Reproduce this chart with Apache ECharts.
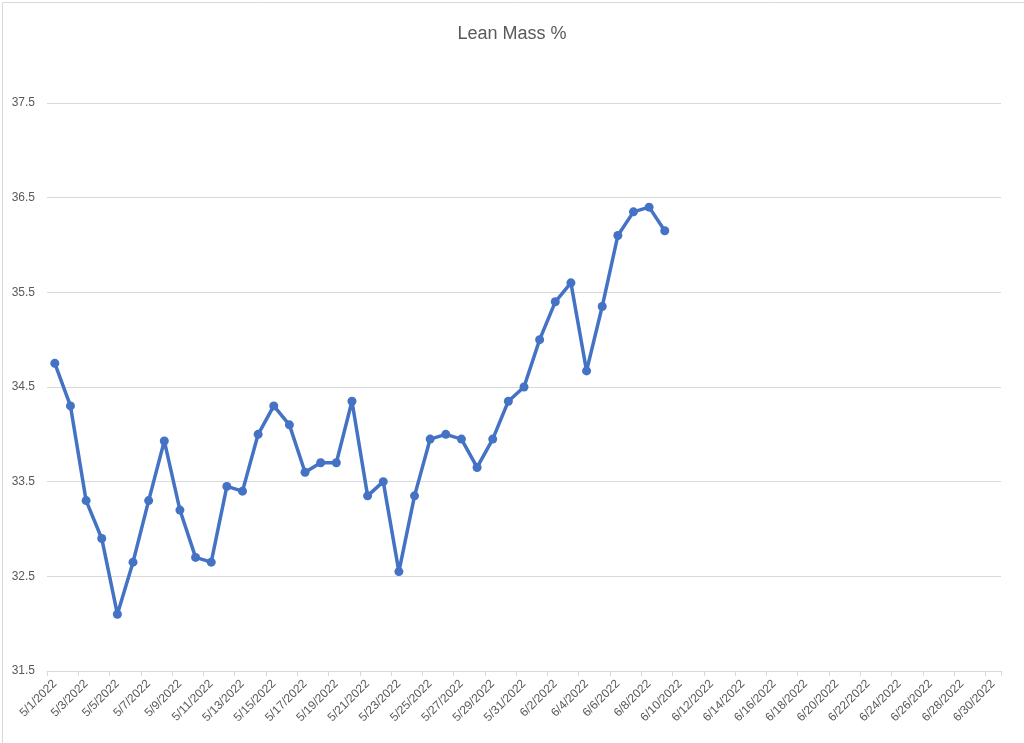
<!DOCTYPE html>
<html>
<head>
<meta charset="utf-8">
<script src="https://cdn.jsdelivr.net/npm/echarts@6/dist/echarts.min.js"></script>
<style>
html,body{margin:0;padding:0;background:#fff;}
#chart{width:1024px;height:743px;}
</style>
</head>
<body>
<div id="chart"></div>
<script>
var chartTitle = "Lean Mass %";
var categories = [
 "5/1/2022","5/2/2022","5/3/2022","5/4/2022","5/5/2022","5/6/2022","5/7/2022","5/8/2022","5/9/2022","5/10/2022",
 "5/11/2022","5/12/2022","5/13/2022","5/14/2022","5/15/2022","5/16/2022","5/17/2022","5/18/2022","5/19/2022","5/20/2022",
 "5/21/2022","5/22/2022","5/23/2022","5/24/2022","5/25/2022","5/26/2022","5/27/2022","5/28/2022","5/29/2022","5/30/2022",
 "5/31/2022","6/1/2022","6/2/2022","6/3/2022","6/4/2022","6/5/2022","6/6/2022","6/7/2022","6/8/2022","6/9/2022",
 "6/10/2022","6/11/2022","6/12/2022","6/13/2022","6/14/2022","6/15/2022","6/16/2022","6/17/2022","6/18/2022","6/19/2022",
 "6/20/2022","6/21/2022","6/22/2022","6/23/2022","6/24/2022","6/25/2022","6/26/2022","6/27/2022","6/28/2022","6/29/2022",
 "6/30/2022"
];
var leanMass = [
 34.75, 34.3, 33.3, 32.9, 32.1, 32.65, 33.3, 33.93, 33.2, 32.7,
 32.65, 33.45, 33.4, 34.0, 34.3, 34.1, 33.6, 33.7, 33.7, 34.35,
 33.35, 33.5, 32.55, 33.35, 33.95, 34.0, 33.95, 33.65, 33.95, 34.35,
 34.5, 35.0, 35.4, 35.6, 34.67, 35.35, 36.1, 36.35, 36.4, 36.15
];
var yMin = 31.5, yMax = 37.5, yStep = 1;

var chart = echarts.init(document.getElementById('chart'), null, {renderer: 'canvas'});
var font = '"Liberation Sans", "DejaVu Sans", sans-serif';
chart.setOption({
  animation: false,
  backgroundColor: '#ffffff',
  title: {
    text: chartTitle, left: 'center', top: 20,
    textStyle: {fontFamily: font, fontSize: 18, fontWeight: 'normal', color: '#595959'}
  },
  graphic: [{
    type: 'rect', left: 0, top: 0, silent: true,
    shape: {x: 0.5, y: 0.5, width: 1023, height: 742},
    style: {fill: 'none', stroke: '#d9d9d9', lineWidth: 1}
  }],
  grid: {left: 47, right: 23, top: 103, bottom: 72, containLabel: false},
  xAxis: {
    type: 'category', data: categories, boundaryGap: true,
    axisLine: {show: true, lineStyle: {color: '#d9d9d9', width: 1}},
    axisTick: {show: true, interval: 1, length: 5, lineStyle: {color: '#d9d9d9'}},
    axisLabel: {interval: 1, rotate: 45, margin: 11, color: '#595959', fontSize: 12, fontFamily: font},
    splitLine: {show: false}
  },
  yAxis: {
    type: 'value', min: yMin, max: yMax, interval: yStep,
    axisLine: {show: false}, axisTick: {show: false},
    axisLabel: {color: '#595959', fontSize: 12, fontFamily: font, margin: 12,
      formatter: function (v) { return v.toFixed(1); }},
    splitLine: {lineStyle: {color: '#d9d9d9', width: 1}}
  },
  series: [{
    type: 'line', data: leanMass,
    symbol: 'circle', symbolSize: 9,
    lineStyle: {color: '#4472C4', width: 3.5},
    itemStyle: {color: '#4472C4'},
    connectNulls: false
  }]
});
</script>
</body>
</html>
